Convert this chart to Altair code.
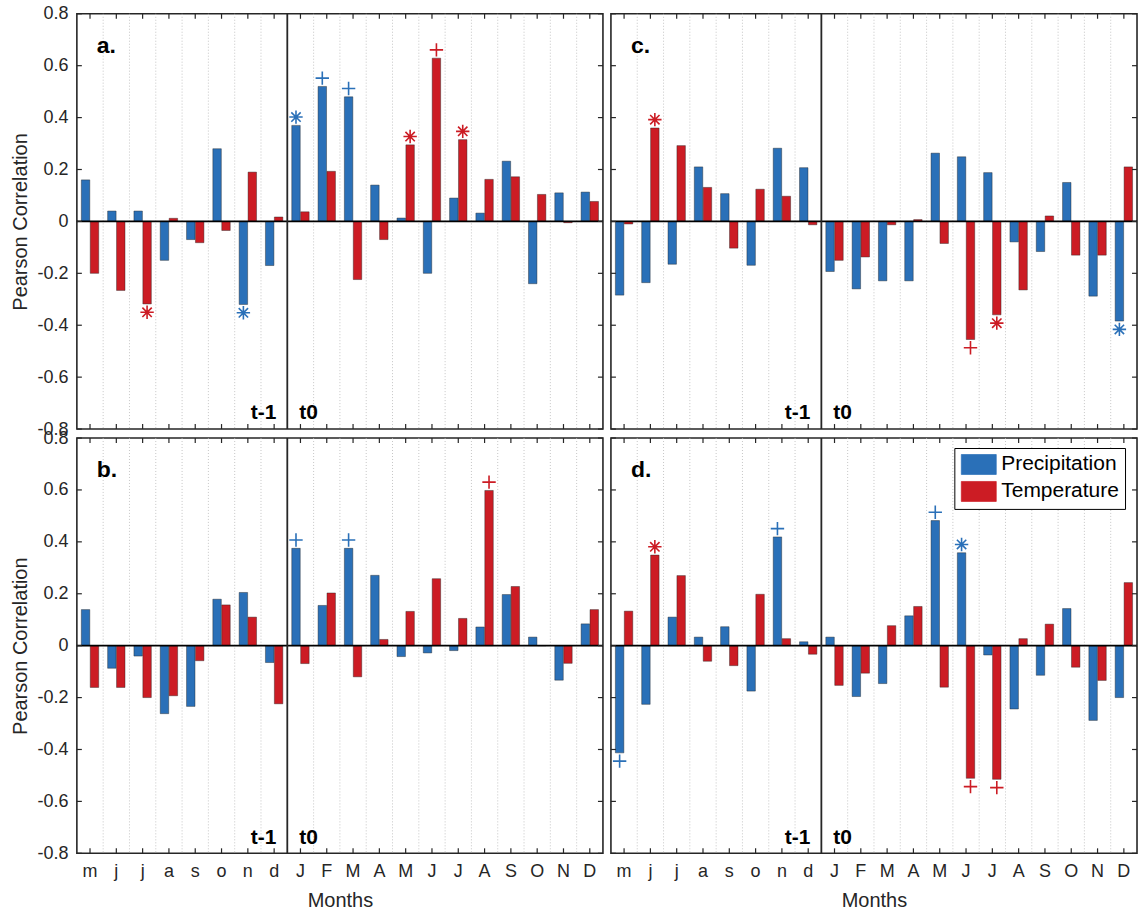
import altair as alt
import pandas as pd

# Month axis: previous year (t-1, lower case) then current year (t0)
MONTHS = ["m", "j", "j", "a", "s", "o", "n", "d",
          "J", "F", "M", "A", "M", "J", "J", "A", "S", "O", "N", "D"]
SERIES = ["Precipitation", "Temperature"]
COLORS = ["#2a70b8", "#cc1c24"]
Y_TICKS = [-0.8, -0.6, -0.4, -0.2, 0, 0.2, 0.4, 0.6, 0.8]
T0_START = 8  # index of the first t0 month (J)

# Pearson correlations per panel
precip_a = [0.16, 0.04, 0.04, -0.15, -0.07, 0.28, -0.32, -0.17,
            0.37, 0.52, 0.48, 0.14, 0.013, -0.20, 0.09, 0.032, 0.232, -0.24, 0.11, 0.113]
temp_a = [-0.20, -0.266, -0.318, 0.012, -0.082, -0.035, 0.19, 0.017,
          0.037, 0.193, -0.224, -0.07, 0.295, 0.629, 0.315, 0.162, 0.172, 0.104, -0.005, 0.077]

precip_b = [0.139, -0.087, -0.04, -0.262, -0.234, 0.179, 0.205, -0.065,
            0.375, 0.155, 0.375, 0.271, -0.042, -0.028, -0.019, 0.072, 0.197, 0.033, -0.133, 0.084]
temp_b = [-0.161, -0.161, -0.2, -0.193, -0.058, 0.157, 0.11, -0.224,
          -0.069, 0.203, -0.12, 0.024, 0.132, 0.258, 0.105, 0.598, 0.228, 0.0, -0.068, 0.139]

precip_c = [-0.284, -0.236, -0.165, 0.21, 0.107, -0.169, 0.282, 0.207,
            -0.193, -0.26, -0.229, -0.229, 0.263, 0.249, 0.188, -0.079, -0.116, 0.15, -0.288, -0.384]
temp_c = [-0.01, 0.36, 0.292, 0.131, -0.103, 0.124, 0.097, -0.013,
          -0.15, -0.137, -0.013, 0.007, -0.085, -0.455, -0.36, -0.264, 0.021, -0.13, -0.13, 0.21]

precip_d = [-0.413, -0.226, 0.11, 0.033, 0.073, -0.175, 0.419, 0.015,
            0.033, -0.196, -0.146, 0.115, 0.482, 0.358, -0.036, -0.244, -0.114, 0.143, -0.288, -0.2]
temp_d = [0.133, 0.349, 0.27, -0.06, -0.077, 0.198, 0.027, -0.033,
          -0.153, -0.106, 0.077, 0.151, -0.16, -0.511, -0.515, 0.027, 0.083, -0.083, -0.134, 0.243]

# Significance flags: (series, month index, symbol)
sig_a = [("Temperature", 2, "*"), ("Precipitation", 6, "*"), ("Precipitation", 8, "*"),
         ("Precipitation", 9, "+"), ("Precipitation", 10, "+"), ("Temperature", 12, "*"),
         ("Temperature", 13, "+"), ("Temperature", 14, "*")]
sig_b = [("Precipitation", 8, "+"), ("Precipitation", 10, "+"), ("Temperature", 15, "+")]
sig_c = [("Temperature", 1, "*"), ("Temperature", 13, "+"), ("Temperature", 14, "*"),
         ("Precipitation", 19, "*")]
sig_d = [("Precipitation", 0, "+"), ("Temperature", 1, "*"), ("Precipitation", 6, "+"),
         ("Precipitation", 12, "+"), ("Precipitation", 13, "*"), ("Temperature", 13, "+"),
         ("Temperature", 14, "+")]

W, H = 527, 416
FONT = "Liberation Sans"
INK = "#262626"

PLUS = "M-1,0H1M0,-1V1"
STAR = "M-1,0H1M0,-1V1M-0.7,-0.7L0.7,0.7M-0.7,0.7L0.7,-0.7"
LEGEND_SWATCH = "M-1.75,-1H1.75V1H-1.75Z"

x_scale = alt.Scale(domain=list(range(len(MONTHS))), paddingInner=0, paddingOuter=0)
y_scale = alt.Scale(domain=[-0.8, 0.8], nice=False, zero=False)
off_scale = alt.Scale(domain=SERIES, paddingInner=0.05, paddingOuter=0.5)
color_scale = alt.Scale(domain=SERIES, range=COLORS)

month_expr = "[" + ",".join(f"'{m}'" for m in MONTHS) + "][datum.value]"
y_label_expr = ("abs(datum.value) < 1e-9 ? '0' : "
                "(datum.value < 0 ? '-' : '') + format(abs(datum.value), '.1f')")

legend = alt.Legend(
    title=None, orient="none", legendX=879, legendY=435,
    symbolType=LEGEND_SWATCH, symbolSize=400, symbolStrokeColor="#333",
    symbolStrokeWidth=0.7, symbolOffset=8, labelFontSize=21, labelFont=FONT,
    labelColor="black", labelOffset=12, rowPadding=4, padding=6,
    strokeColor="black", fillColor="white", cornerRadius=0,
)


def panel(letter, precip, temp, sig, bottom, left):
    bars = pd.DataFrame({
        "idx": list(range(len(MONTHS))) * 2,
        "series": [SERIES[0]] * len(MONTHS) + [SERIES[1]] * len(MONTHS),
        "value": list(precip) + list(temp),
    })
    lookup = {(s, i): v for s, i, v in zip(bars["series"], bars["idx"], bars["value"])}
    marks = pd.DataFrame(sig, columns=["series", "idx", "sym"])
    marks["value"] = [lookup[(s, i)] for s, i in zip(marks["series"], marks["idx"])]
    marks["pos"] = [v + (0.032 if v >= 0 else -0.032) for v in marks["value"]]

    x_axis = alt.Axis(labelExpr=month_expr, labelAngle=0, ticks=False, domain=False,
                      grid=False, labelPadding=9, labelFontSize=18, labelFont=FONT,
                      labelColor=INK, title="Months", titleFontSize=20,
                      titleFont=FONT, titleFontWeight="normal", titleColor=INK,
                      titlePadding=10) if bottom else None
    y_axis = alt.Axis(values=Y_TICKS, labelExpr=y_label_expr, ticks=False, domain=False,
                      grid=False, labelPadding=9, labelFontSize=18, labelFont=FONT,
                      labelColor=INK, title="Pearson Correlation", titleFontSize=20,
                      titleFont=FONT, titleFontWeight="normal", titleColor=INK,
                      titlePadding=6) if left else None

    # every layer carries the same axis definition so the merged axes survive
    def xe(band=None):
        if band is None:
            return alt.X("idx:O", scale=x_scale, axis=x_axis)
        return alt.X("idx:O", bandPosition=band, scale=x_scale, axis=x_axis)

    def ye(field):
        return alt.Y(f"{field}:Q", scale=y_scale, axis=y_axis)

    grid = alt.Chart(pd.DataFrame({"idx": [i for i in range(1, len(MONTHS)) if i != T0_START]})).mark_rule(
        color="#b8b8b8", strokeWidth=0.8, strokeDash=[1, 2]
    ).encode(x=xe(0))

    divider = alt.Chart(pd.DataFrame({"idx": [T0_START]})).mark_rule(
        color=INK, strokeWidth=1.8
    ).encode(x=xe(0))

    bar_layer = alt.Chart(bars).mark_bar(stroke="#222", strokeWidth=0.6, strokeOpacity=0.7).encode(
        x=xe(),
        xOffset=alt.XOffset("series:N", scale=off_scale),
        y=ye("value"),
        color=alt.Color("series:N", scale=color_scale, legend=legend),
    )

    zero = alt.Chart(pd.DataFrame({"v": [0]})).mark_rule(color="black", strokeWidth=1.6).encode(
        y=ye("v"), x=alt.value(0), x2=alt.value(W)
    )

    tick_df = pd.DataFrame({"idx": list(range(len(MONTHS)))})
    x_ticks_top = alt.Chart(tick_df).mark_rule(color=INK, strokeWidth=1.2).encode(
        x=xe(), y=alt.value(0), y2=alt.value(5))
    x_ticks_bot = alt.Chart(tick_df).mark_rule(color=INK, strokeWidth=1.2).encode(
        x=xe(), y=alt.value(H - 5), y2=alt.value(H))
    ytick_df = pd.DataFrame({"v": Y_TICKS})
    y_ticks_l = alt.Chart(ytick_df).mark_rule(color=INK, strokeWidth=1.2).encode(
        y=ye("v"), x=alt.value(0), x2=alt.value(5))
    y_ticks_r = alt.Chart(ytick_df).mark_rule(color=INK, strokeWidth=1.2).encode(
        y=ye("v"), x=alt.value(W - 5), x2=alt.value(W))

    sig_layer = alt.Chart(marks).mark_point(filled=False, strokeWidth=1.6, size=180, opacity=1).encode(
        x=xe(),
        xOffset=alt.XOffset("series:N", scale=off_scale),
        y=ye("pos"),
        shape=alt.Shape("sym:N", scale=alt.Scale(domain=["+", "*"], range=[PLUS, STAR]), legend=None),
        color=alt.Color("series:N", scale=color_scale, legend=legend),
    )

    period_df = pd.DataFrame({"idx": [T0_START], "v": [-0.74]})
    t_prev = alt.Chart(period_df).mark_text(
        text="t-1", align="right", baseline="middle", dx=-11, fontSize=21,
        fontWeight="bold", font=FONT, color="black"
    ).encode(x=xe(0), y=ye("v"))
    t_now = alt.Chart(period_df).mark_text(
        text="t0", align="left", baseline="middle", dx=12, fontSize=21,
        fontWeight="bold", font=FONT, color="black"
    ).encode(x=xe(0), y=ye("v"))

    tag = alt.Chart(pd.DataFrame({"t": [letter]})).mark_text(
        align="left", baseline="middle", fontSize=23, fontWeight="bold", font=FONT, color="black"
    ).encode(text="t:N", x=alt.value(20), y=alt.value(32))

    return alt.layer(grid, bar_layer, zero, divider, x_ticks_top, x_ticks_bot,
                     y_ticks_l, y_ticks_r, sig_layer, t_prev, t_now, tag).properties(width=W, height=H)


pa = panel("a.", precip_a, temp_a, sig_a, bottom=False, left=True)
pc = panel("c.", precip_c, temp_c, sig_c, bottom=False, left=False)
pb = panel("b.", precip_b, temp_b, sig_b, bottom=True, left=True)
pd_ = panel("d.", precip_d, temp_d, sig_d, bottom=True, left=False)

chart = alt.concat(
    pa, pc, pb, pd_, columns=2,
    spacing=alt.RowColnumber(row=9, column=8), bounds="flush",
).properties(
    padding={"left": 10, "top": 3, "right": 4, "bottom": 2},
    background="white",
).configure_view(stroke=INK, strokeWidth=1.6).configure_scale(
    bandPaddingInner=0, bandPaddingOuter=0
)

chart.save("out.html", embed_options={"renderer": "svg", "actions": False})
